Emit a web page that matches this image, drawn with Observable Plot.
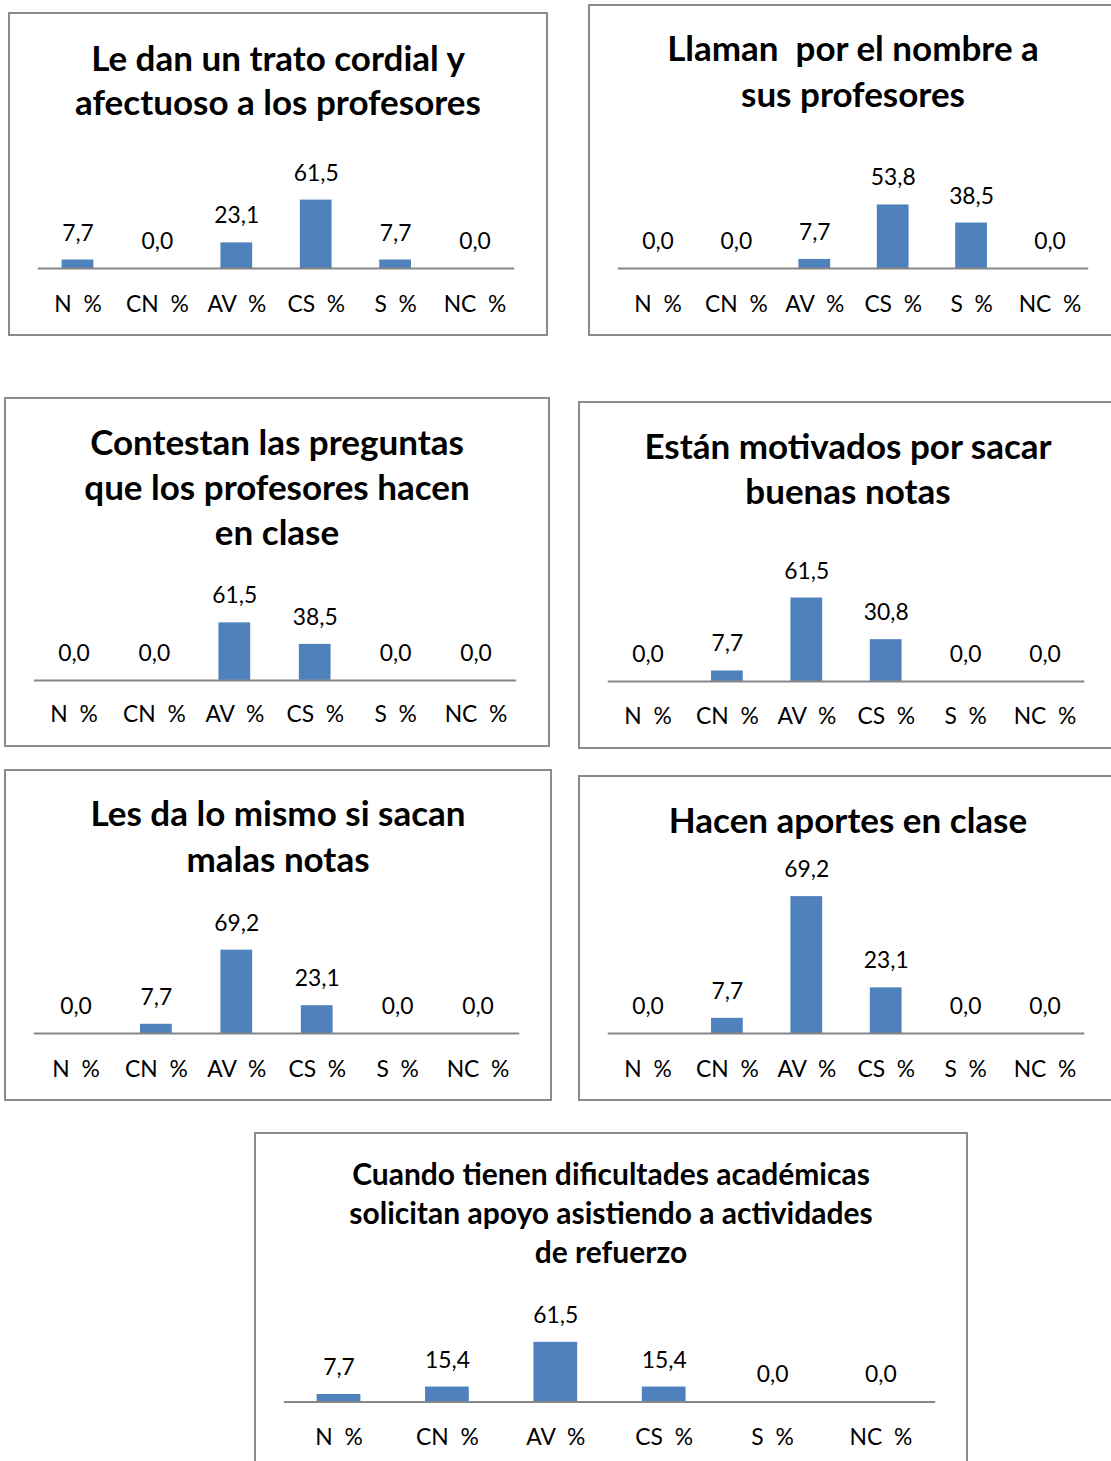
<!DOCTYPE html>
<html>
<head>
<meta charset="utf-8">
<script src="https://cdn.jsdelivr.net/npm/d3@7"></script>
<script src="https://cdn.jsdelivr.net/npm/@observablehq/plot@0.6"></script>
<style>
  html, body { margin: 0; padding: 0; background: #fff; overflow: hidden; }
  body { width: 1111px; height: 1461px; position: relative; font-family: Lato, "Open Sans", sans-serif; }
  .box { position: absolute; box-sizing: border-box; border: 2px solid #8a8a8a; background: #fff; }
  .ttl { position: absolute; left: 0; right: 0; text-align: center; font-weight: bold; color: #000; white-space: pre; }
  .box svg { position: absolute; left: -2px; top: 0px; overflow: visible; }
</style>
</head>
<body>
<script>
// ---- data ----
const categories = ["N  %", "CN  %", "AV  %", "CS  %", "S  %", "NC  %"];
const titles = [
  "Le dan un trato cordial y\nafectuoso a los profesores",
  "Llaman  por el nombre a\nsus profesores",
  "Contestan las preguntas\nque los profesores hacen\nen clase",
  "Están motivados por sacar\nbuenas notas",
  "Les da lo mismo si sacan\nmalas notas",
  "Hacen aportes en clase",
  "Cuando tienen dificultades académicas\nsolicitan apoyo asistiendo a actividades\nde refuerzo"
];
const trato = [7.7, 0.0, 23.1, 61.5, 7.7, 0.0];
const nombre = [0.0, 0.0, 7.7, 53.8, 38.5, 0.0];
const contestan = [0.0, 0.0, 61.5, 38.5, 0.0, 0.0];
const motivados = [0.0, 7.7, 61.5, 30.8, 0.0, 0.0];
const daLoMismo = [0.0, 7.7, 69.2, 23.1, 0.0, 0.0];
const aportes = [0.0, 7.7, 69.2, 23.1, 0.0, 0.0];
const refuerzo = [7.7, 15.4, 61.5, 15.4, 0.0, 0.0];
const series = [trato, nombre, contestan, motivados, daLoMismo, aportes, refuerzo];

// ---- layout (page coordinates) ----
const layout = [
  {l: 8,   t: 12,   r: 548,  b: 336,  x0: 38,  x1: 518,  ay: 268,  k: 1.122, ty: 57,   lh: 44, fs: 35, tick: 303},
  {l: 588, t: 4,    r: 1118, b: 336,  x0: 618, x1: 1092, ay: 268,  k: 1.19,  ty: 47,   lh: 46, fs: 35, tick: 303},
  {l: 4,   t: 397,  r: 550,  b: 747,  x0: 34,  x1: 520,  ay: 680,  k: 0.943, ty: 441,  lh: 45, fs: 35, tick: 714},
  {l: 578, t: 401,  r: 1118, b: 749,  x0: 608, x1: 1088, ay: 681,  k: 1.366, ty: 445,  lh: 45, fs: 35, tick: 716},
  {l: 4,   t: 769,  r: 552,  b: 1101, x0: 34,  x1: 523,  ay: 1033, k: 1.214, ty: 812,  lh: 46, fs: 35, tick: 1068},
  {l: 578, t: 775,  r: 1118, b: 1101, x0: 608, x1: 1088, ay: 1033, k: 1.994, ty: 819,  lh: 45, fs: 35, tick: 1068},
  {l: 254, t: 1132, r: 968,  b: 1475, x0: 284, x1: 939,  ay: 1401, k: 0.976, ty: 1173, lh: 39, fs: 30, tick: 1436}
];

const fmt = v => d3.format(".1f")(v).replace(".", ",");

layout.forEach((L, i) => {
  const box = document.createElement("div");
  box.className = "box";
  box.style.left = L.l + "px";
  box.style.top = L.t + "px";
  box.style.width = (L.r - L.l) + "px";
  box.style.height = (L.b - L.t) + "px";
  document.body.appendChild(box);

  const t = document.createElement("div");
  t.className = "ttl";
  t.textContent = titles[i];
  t.style.fontSize = L.fs + "px";
  t.style.lineHeight = L.lh + "px";
  t.style.top = (L.ty - L.lh / 2 - L.t - 2) + "px";
  box.appendChild(t);

  const W = L.r - L.l, H = L.b - L.t;
  const axisY = L.ay - L.t;
  const data = categories.map((c, j) => ({cat: c, value: series[i][j]}));
  const svg = Plot.plot({
    width: W,
    height: H,
    marginLeft: L.x0 - L.l,
    marginRight: L.r - L.x1,
    marginTop: 0,
    marginBottom: H - axisY,
    style: {fontFamily: "Lato, 'Open Sans', sans-serif", background: "transparent", overflow: "visible"},
    x: {domain: categories, paddingInner: 0.6, paddingOuter: 0.3, label: null},
    y: {domain: [0, 100], range: [axisY, axisY - L.k * 100], axis: null},
    marks: [
      Plot.barY(data, {x: "cat", y: "value", fill: "#4F81BD"}),
      Plot.ruleY([0], {stroke: "#868686", strokeWidth: 2}),
      Plot.text(data, {x: "cat", y: "value", text: d => fmt(d.value), dy: -27, fontSize: 23, fill: "#000", lineAnchor: "middle"}),
      Plot.axisX({tickSize: 0, tickPadding: 0, fontSize: 23, dy: L.tick - L.ay - 8, color: "#000", label: null, tickFormat: d => d.replace(/ /g, "\u00a0")})
    ]
  });
  box.appendChild(svg);
});
</script>
</body>
</html>
